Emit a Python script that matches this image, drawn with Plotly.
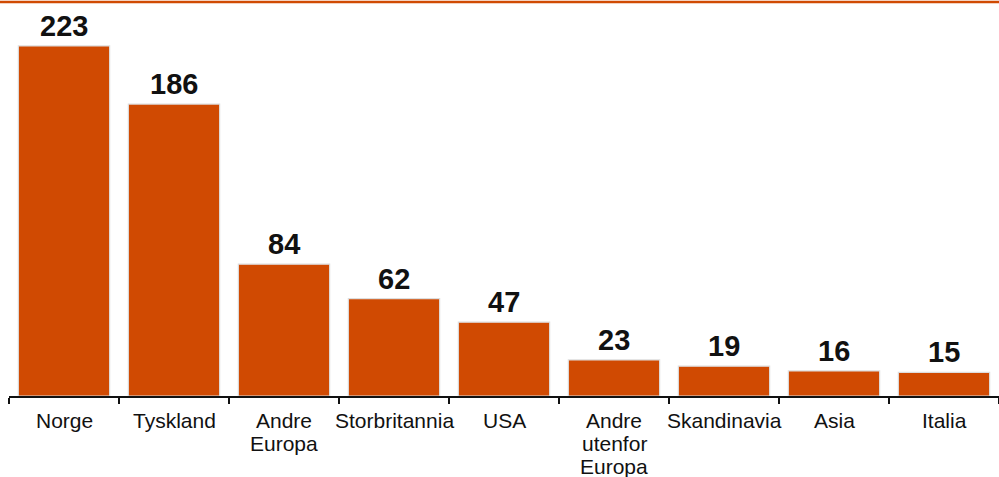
import plotly.graph_objects as go

# Categories and counts
categories = ["Norge", "Tyskland", "Andre Europa", "Storbritannia", "USA",
              "Andre utenfor Europa", "Skandinavia", "Asia", "Italia"]
# Line-wrapped category labels
label_lines = [["Norge"], ["Tyskland"], ["Andre", "Europa"], ["Storbritannia"], ["USA"],
               ["Andre", "utenfor", "Europa"], ["Skandinavia"], ["Asia"], ["Italia"]]
values = [223, 186, 84, 62, 47, 23, 19, 16, 15]

bar_color = "#D04A02"
font_family = "Liberation Sans, Arial, sans-serif"

fig = go.Figure(
    go.Bar(
        x=categories,
        y=values,
        marker=dict(color=bar_color, line=dict(color="#dddddd", width=1.2)),
        hoverinfo="skip",
    )
)

# Bold value labels above each bar
for c, v in zip(categories, values):
    fig.add_annotation(
        x=c, y=v, text=f"<b>{v}</b>", showarrow=False,
        yanchor="bottom", yshift=2,
        font=dict(family=font_family, size=29, color="#111111"),
    )

# Category labels below the axis, one annotation per line for tight spacing
for c, lines in zip(categories, label_lines):
    for i, line in enumerate(lines):
        fig.add_annotation(
            x=c, xref="x", y=0, yref="paper", text=line, showarrow=False,
            yanchor="middle", yshift=-24 - 23 * i,
            font=dict(family=font_family, size=21, color="#111111"),
        )

fig.update_layout(
    width=999,
    height=477,
    margin=dict(l=9, r=0, t=2, b=81),
    plot_bgcolor="white",
    paper_bgcolor="white",
    bargap=0.17,
    showlegend=False,
    font=dict(family=font_family, size=18, color="#111111"),
    xaxis=dict(
        type="category",
        automargin=False,
        showticklabels=False,
        showline=True,
        linecolor="#111111",
        linewidth=1.5,
        ticks="outside",
        tickson="boundaries",
        ticklen=6,
        tickcolor="#111111",
        tickwidth=1.5,
        showgrid=False,
    ),
    yaxis=dict(
        range=[0, 251],
        visible=False,
        showgrid=False,
        zeroline=False,
        automargin=False,
    ),
    shapes=[
        dict(type="line", xref="paper", yref="paper", x0=-0.02, x1=1.01, y0=1.0, y1=1.0,
             line=dict(color=bar_color, width=2.5)),
    ],
)

fig.write_html("out.html")
